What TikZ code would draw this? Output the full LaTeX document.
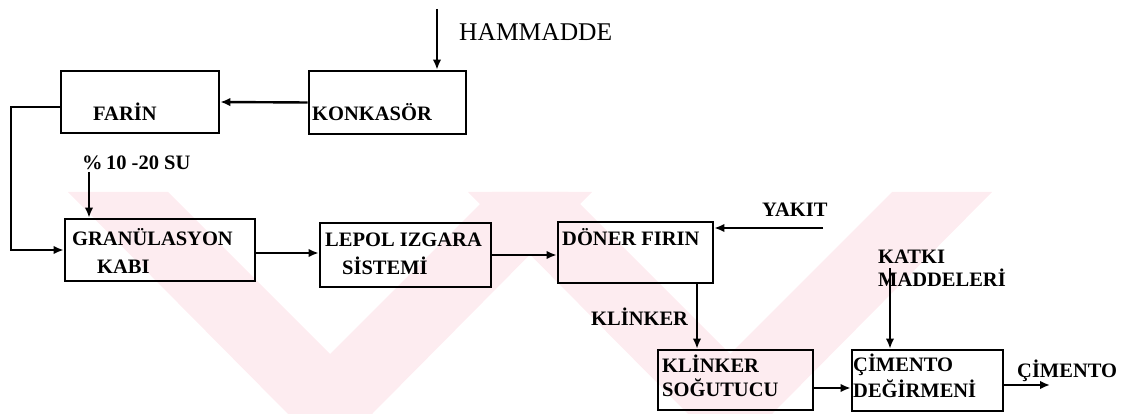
\documentclass[tikz,border=0pt]{standalone}
\usepackage{fontspec}
\setmainfont{Liberation Serif}
\usetikzlibrary{arrows.meta}
\definecolor{wm}{RGB}{253,236,240}
\begin{document}
\begin{tikzpicture}[x=1pt,y=-1pt,
  box/.style={draw=black,line width=2.6pt,rectangle,inner sep=0pt},
  lbl/.style={inner sep=0pt,anchor=base west,font=\fontsize{20.5}{28}\selectfont\bfseries},
  arr/.style={line width=2.4pt,-{Latex[length=10pt,width=8.5pt]}}]
\useasboundingbox (0,0) rectangle (1124,414);
% faint watermark
\fill[wm] (68,192) -- (168,192) -- (330,354) -- (492,192) -- (592,192) -- (372,414) -- (288,414) -- cycle;
\fill[wm] (468,192) -- (568,192) -- (730,354) -- (892,192) -- (992,192) -- (772,414) -- (688,414) -- cycle;
% boxes
\node[box,minimum width=158pt,minimum height=62pt] (farin) at (140,102) {};
\node[box,minimum width=157pt,minimum height=63pt] (kon) at (387.5,102.5) {};
\node[box,minimum width=190pt,minimum height=62pt] (gran) at (160,250) {};
\node[box,minimum width=171pt,minimum height=64pt] (lepol) at (405.5,255) {};
\node[box,minimum width=155pt,minimum height=61pt] (doner) at (635.5,252.5) {};
\node[box,minimum width=155pt,minimum height=60pt] (kl) at (735.5,380) {};
\node[box,minimum width=151pt,minimum height=61pt] (cim) at (927.5,380.5) {};
% texts
\node[inner sep=0pt,anchor=base west,font=\fontsize{25.5}{30}\selectfont] (tham) at (459,41) {HAMMADDE};
\node[lbl] (tfarin) at (93,121) {FAR\.{I}N};
\node[lbl] (tkon) at (312,121) {KONKAS\"OR};
\node[lbl] (tsu) at (82,170) {\%\,10 -20 SU};
\node[lbl] (tgran1) at (72,245) {GRAN\"ULASYON};
\node[lbl] (tgran2) at (97,273) {KABI};
\node[lbl] (tlep1) at (325,246) {LEPOL IZGARA};
\node[lbl] (tlep2) at (342,274) {S\.{I}STEM\.{I}};
\node[lbl] (tdon) at (562,245) {D\"ONER FIRIN};
\node[lbl] (tyak) at (762,217) {YAKIT};
\node[lbl] (tkat1) at (878,263) {KATKI};
\node[lbl] (tkat2) at (878,286) {MADDELER\.{I}};
\node[lbl] (tklab) at (591,325) {KL\.{I}NKER};
\node[lbl] (tkl1) at (662,372) {KL\.{I}NKER};
\node[lbl] (tkl2) at (662,396) {SO\u{G}UTUCU};
\node[lbl] (tcim1) at (853,371) {\c{C}\.{I}MENTO};
\node[lbl] (tcim2) at (853,397) {DE\u{G}\.{I}RMEN\.{I}};
\node[lbl] (tcout) at (1017,377) {\c{C}\.{I}MENTO};
% connector ends
\coordinate (ham) at (437,9);
\coordinate (su) at (89,172);
\coordinate (yak) at (823,228);
\coordinate (kx) at (697,0);
\coordinate (kat) at (890,268);
\coordinate (out) at (1050,385);
% connectors
\draw[arr] (ham) -- (ham |- kon.north);
\draw[arr] (kon.west) -- (farin.east);
\draw[arr] ([yshift=-5pt]farin.west) -- ++(-49,0) |- (gran.west);
\draw[arr] (su) -- (su |- gran.north);
\draw[arr] ([yshift=-3pt]gran.east) -- ([yshift=2pt]lepol.west);
\draw[arr] (lepol.east) -- (lepol.east -| doner.west);
\draw[arr] (yak) -- (yak -| doner.east);
\draw[arr] (doner.south -| kx) -- (kl.north -| kx);
\draw[arr] (kat) -- (kat |- cim.north);
\draw[arr] ([yshift=-8pt]kl.east) -- ([yshift=-8pt]kl.east -| cim.west);
\draw[arr] (out -| cim.east) -- (out);
\end{tikzpicture}
\end{document}
